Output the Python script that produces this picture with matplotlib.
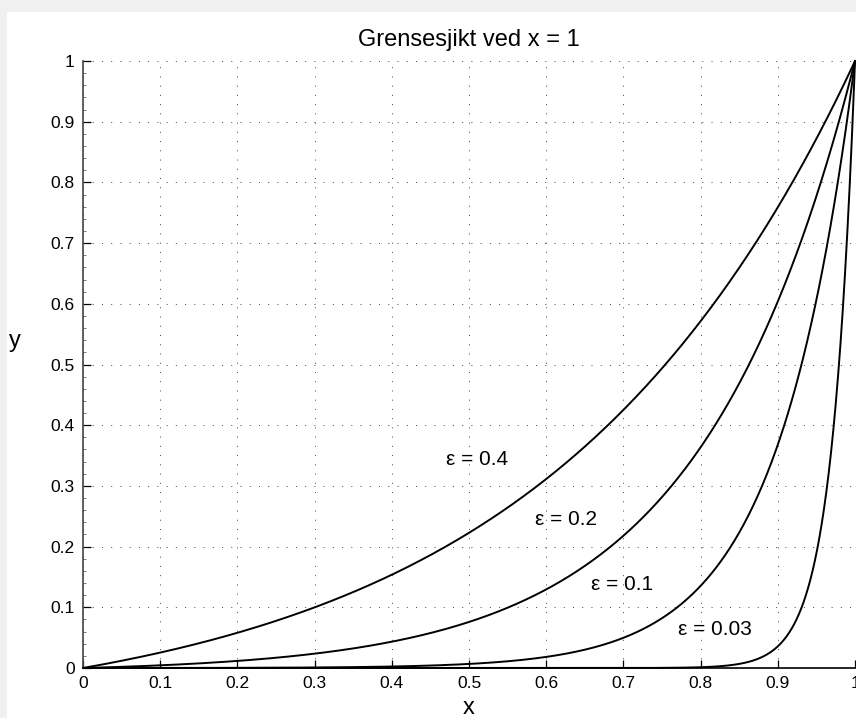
import numpy as np
import matplotlib
matplotlib.use("Agg")
import matplotlib.pyplot as plt
from matplotlib.patches import Rectangle
from matplotlib.ticker import MultipleLocator

# Data: boundary-layer parameters and label positions
eps_values = [0.4, 0.2, 0.1, 0.03]
labels = ["ε = 0.4", "ε = 0.2", "ε = 0.1", "ε = 0.03"]
label_x = [0.51, 0.626, 0.698, 0.819]
label_y = [0.343, 0.244, 0.138, 0.063]
tick_labels = ['0', '0.1', '0.2', '0.3', '0.4', '0.5', '0.6', '0.7', '0.8', '0.9', '1']
x = np.linspace(0, 1, 1001)

plt.rcParams['font.family'] = ['Liberation Sans', 'DejaVu Sans']

W, H = 856, 718
fig = plt.figure(figsize=(W / 100, H / 100), dpi=100, facecolor='#f0f0f0')
fig.patches.append(Rectangle((7 / W, 0), 1 - 7 / W, 1 - 12 / H, transform=fig.transFigure,
                             facecolor='white', edgecolor='none', zorder=-10))

left, right, top, bottom = 83, 855, 61, 668
ax = fig.add_axes([left / W, 1 - bottom / H, (right - left) / W, (bottom - top) / H])
ax.set_zorder(5)
ax.set_facecolor('white')

for eps in eps_values:
    y = np.expm1(x / eps) / np.expm1(1 / eps)
    ax.plot(x, y, color='black', lw=1.4, clip_on=False)

for t, lx, ly in zip(labels, label_x, label_y):
    ax.text(lx, ly, t, ha='center', va='center', fontsize=15)

ax.set_xlim(0, 1)
ax.set_ylim(0, 1)
ax.set_xticks(np.arange(0, 1.01, 0.1))
ax.set_yticks(np.arange(0, 1.01, 0.1))
ax.set_xticklabels(tick_labels)
ax.set_yticklabels(tick_labels)
ax.yaxis.set_minor_locator(MultipleLocator(0.02))
ax.tick_params(which='major', direction='in', length=6, width=0.9, labelsize=12.5, pad=6,
               top=False, right=False)
ax.tick_params(axis='y', which='minor', direction='in', length=2.5, width=0.6,
               color='#666666', right=False)
ax.grid(True, which='major', linestyle=(0, (1, 8.5)), color='#444444', lw=0.7)

for s in ['top', 'right']:
    ax.spines[s].set_visible(False)
ax.spines['left'].set_linewidth(1.2)
ax.spines['left'].set_color('#444444')
ax.spines['bottom'].set_linewidth(1.2)

ax.set_title("Grensesjikt ved x = 1", fontsize=17, pad=11)
ax.set_xlabel("x", fontsize=17)
ax.xaxis.set_label_coords(0.5, -(708 - bottom) / (bottom - top))
ax.xaxis.label.set_va('center')
ax.set_ylabel("y", fontsize=17, rotation=0, va='center', ha='center')
ax.yaxis.set_label_coords(-68 / (right - left), (bottom - 341) / (bottom - top))

fig.savefig("out.png", dpi=100, facecolor=fig.get_facecolor())
